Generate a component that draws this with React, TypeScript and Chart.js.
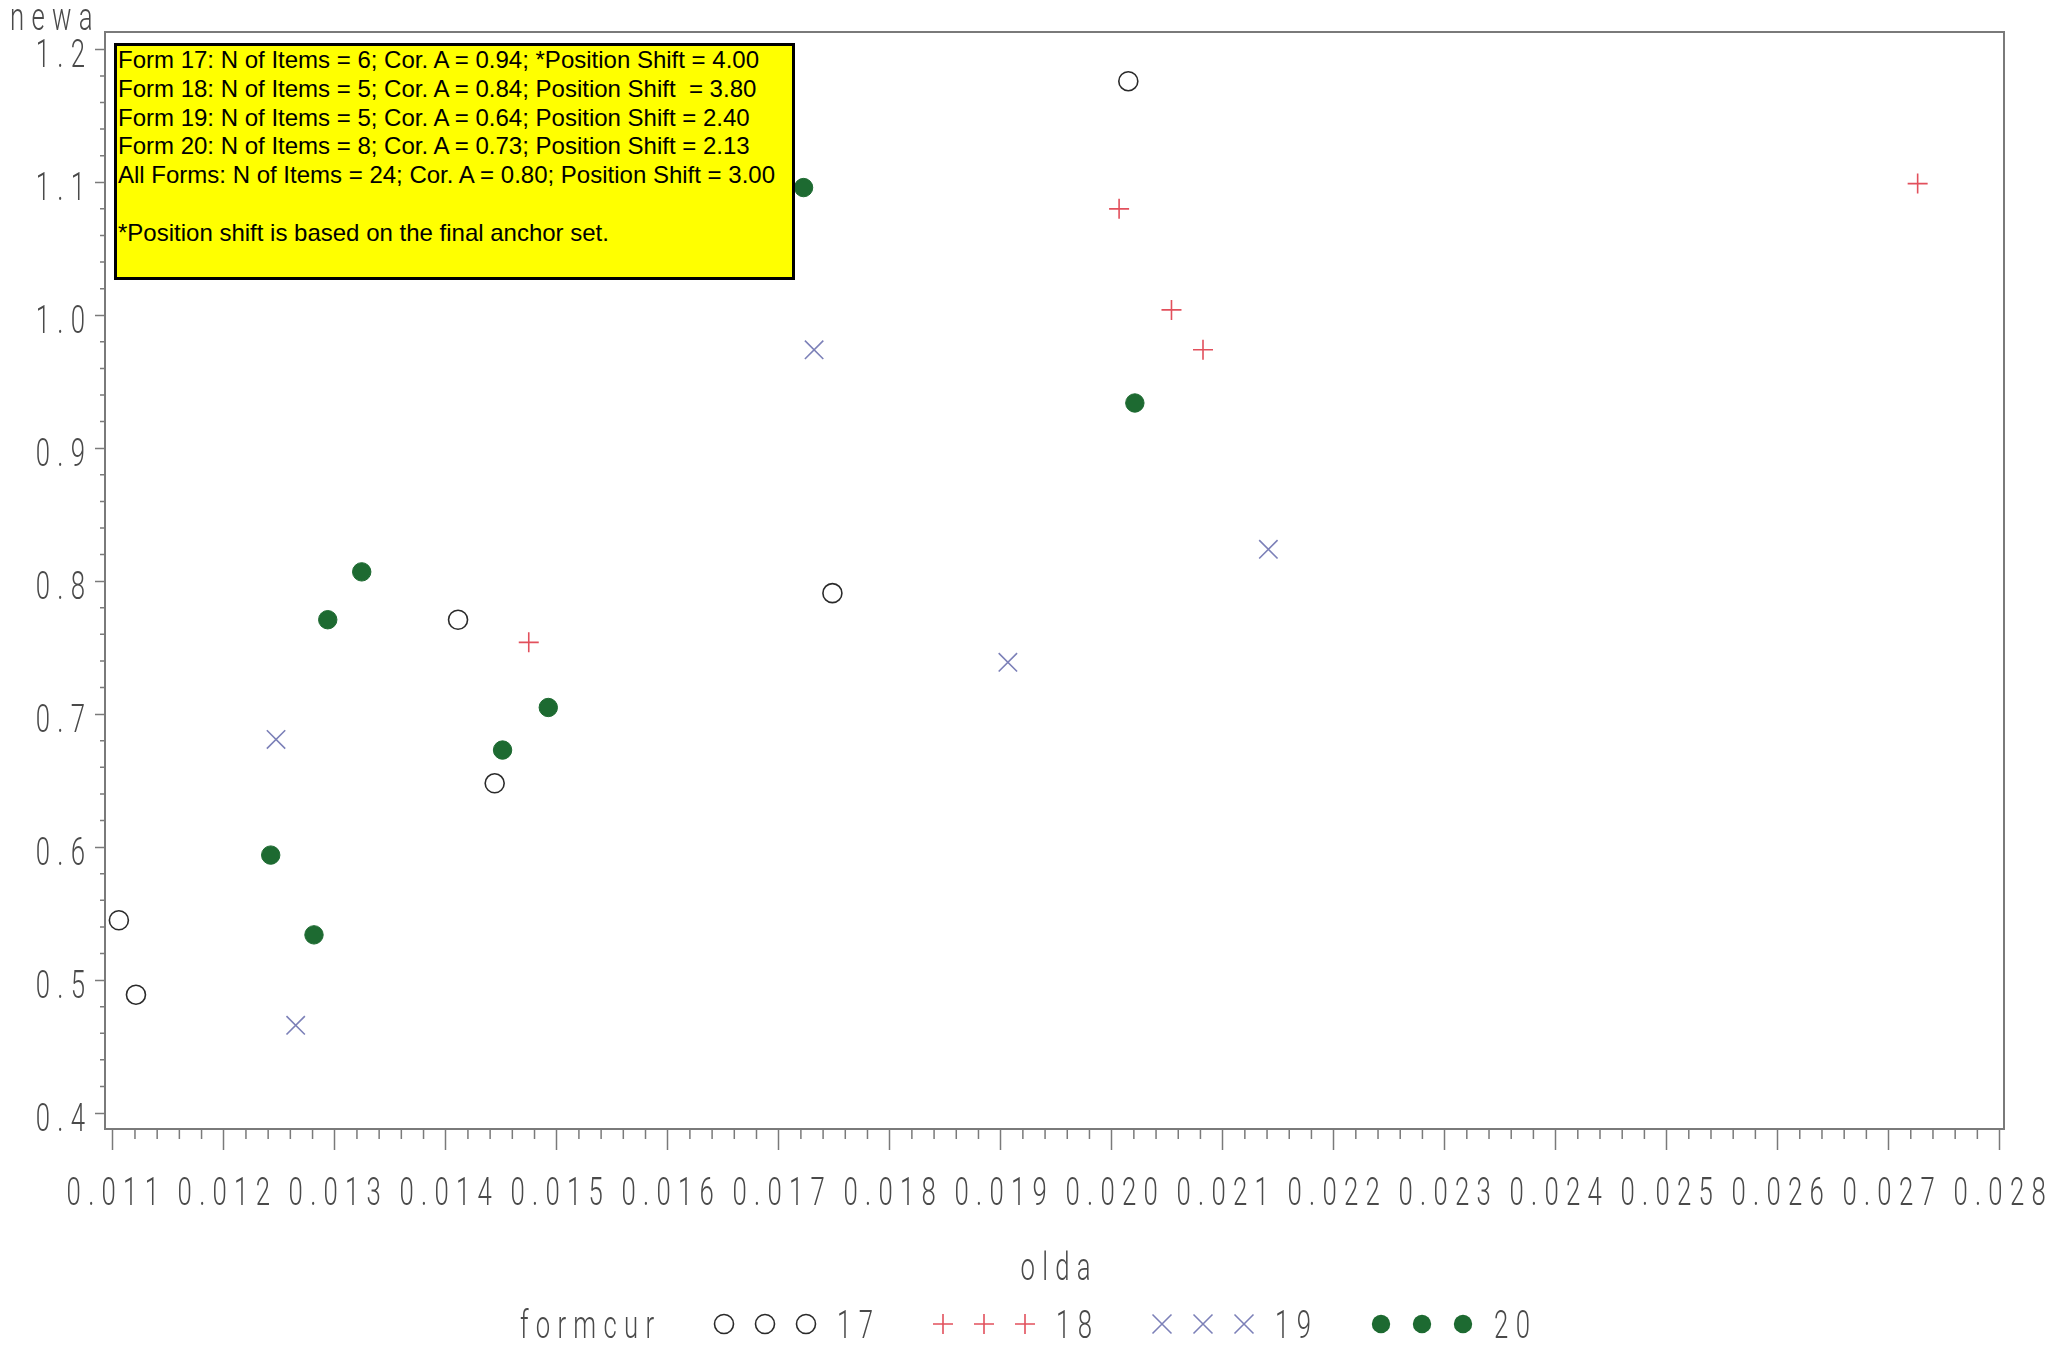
import React, { useEffect, useRef } from 'react';
import { Chart, registerables } from 'chart.js';

Chart.register(...registerables);

// ---- data ----
const form17X = [0.011055, 0.011209, 0.014111, 0.014441, 0.017484, 0.02015];
const form17Y = [0.545, 0.489, 0.771, 0.648, 0.791, 1.176];

const form18X = [0.014748, 0.020067, 0.020539, 0.020823, 0.027262];
const form18Y = [0.754, 1.08, 1.004, 0.974, 1.099];

const form19X = [0.012471, 0.012648, 0.017319, 0.019065, 0.021412];
const form19Y = [0.681, 0.466, 0.974, 0.739, 0.824];

const form20X = [0.012423, 0.012813, 0.012937, 0.013243, 0.014512, 0.014924, 0.017224, 0.020209];
const form20Y = [0.594, 0.534, 0.771, 0.807, 0.673, 0.705, 1.096, 0.934];

const seriesLabels = ['17', '18', '19', '20'];

const xTicks = [0.011, 0.012, 0.013, 0.014, 0.015, 0.016, 0.017, 0.018, 0.019, 0.02, 0.021, 0.022, 0.023, 0.024, 0.025, 0.026, 0.027, 0.028];
const yTicks = [0.4, 0.5, 0.6, 0.7, 0.8, 0.9, 1.0, 1.1, 1.2];

const X_MIN = 0.01093;
const X_MAX = 0.02804;
const Y_MIN = 0.388;
const Y_MAX = 1.213;

const xTitle = 'olda';
const yTitle = 'newa';
const legendTitle = 'formcur';

const boxLines = [
  'Form 17: N of Items = 6; Cor. A = 0.94; *Position Shift = 4.00',
  'Form 18: N of Items = 5; Cor. A = 0.84; Position Shift  = 3.80',
  'Form 19: N of Items = 5; Cor. A = 0.64; Position Shift = 2.40',
  'Form 20: N of Items = 8; Cor. A = 0.73; Position Shift = 2.13',
  'All Forms: N of Items = 24; Cor. A = 0.80; Position Shift = 3.00',
  '',
  '*Position shift is based on the final anchor set.',
];

// ---- styles ----
const SAS_FONT = 'Roboto, "Liberation Sans", sans-serif';
const SAS_SIZE = 39;
const SAS_SX = 0.66;
const SAS_LS = 11;
const TEXT_GRAY = '#4a4a4a';
const AXIS_GRAY = '#7a7a7a';
const C17 = '#2a2a2a';
const C18 = '#e2505c';
const C19 = '#7c80b8';
const C20 = '#1d6a31';

function toPoints(xs: number[], ys: number[]) {
  return xs.map((x, i) => ({ x, y: ys[i] }));
}

// condensed, letter-spaced text in the style of the SAS stroke font
function sasText(ctx: CanvasRenderingContext2D, text: string, x: number, baseline: number, align: 'left' | 'center' | 'right') {
  ctx.save();
  ctx.font = `300 ${SAS_SIZE}px ${SAS_FONT}`;
  ctx.fillStyle = TEXT_GRAY;
  (ctx as any).letterSpacing = `${SAS_LS}px`;
  ctx.textAlign = align;
  ctx.textBaseline = 'alphabetic';
  const trail = SAS_LS * SAS_SX;
  const dx = align === 'center' ? trail / 2 : align === 'right' ? trail : 0;
  ctx.translate(x + dx, baseline);
  ctx.scale(SAS_SX, 1);
  ctx.fillText(text, 0, 0);
  ctx.restore();
}

function drawSymbol(ctx: CanvasRenderingContext2D, kind: string, x: number, y: number, color: string) {
  ctx.save();
  ctx.strokeStyle = color;
  ctx.fillStyle = color;
  ctx.lineWidth = 1.6;
  ctx.beginPath();
  if (kind === 'open') {
    ctx.arc(x, y, 9.5, 0, Math.PI * 2);
    ctx.stroke();
  } else if (kind === 'filled') {
    ctx.arc(x, y, 9.2, 0, Math.PI * 2);
    ctx.fill();
  } else if (kind === 'plus') {
    ctx.moveTo(x - 10, y);
    ctx.lineTo(x + 10, y);
    ctx.moveTo(x, y - 10);
    ctx.lineTo(x, y + 10);
    ctx.stroke();
  } else {
    ctx.moveTo(x - 9.5, y - 9.5);
    ctx.lineTo(x + 9.5, y + 9.5);
    ctx.moveTo(x + 9.5, y - 9.5);
    ctx.lineTo(x - 9.5, y + 9.5);
    ctx.stroke();
  }
  ctx.restore();
}

const legendKinds = ['open', 'plus', 'cross', 'filled'];
const legendColors = [C17, C18, C19, C20];

const decorPlugin = {
  id: 'sasDecor',
  beforeDraw(chart: any) {
    const ctx = chart.ctx as CanvasRenderingContext2D;
    ctx.save();
    ctx.fillStyle = '#ffffff';
    ctx.fillRect(0, 0, chart.width, chart.height);
    ctx.restore();
  },
  afterDraw(chart: any) {
    const ctx = chart.ctx as CanvasRenderingContext2D;
    const a = chart.chartArea;
    const xs = chart.scales.x;
    const ys = chart.scales.y;
    ctx.save();
    // frame
    ctx.strokeStyle = AXIS_GRAY;
    ctx.lineWidth = 2;
    ctx.strokeRect(a.left, a.top, a.right - a.left, a.bottom - a.top);
    // minor ticks
    ctx.lineWidth = 1.5;
    ctx.beginPath();
    for (let i = 0; i < xTicks.length - 1; i++) {
      for (let k = 1; k < 5; k++) {
        const v = xTicks[i] + ((xTicks[i + 1] - xTicks[i]) * k) / 5;
        const px = xs.getPixelForValue(v);
        ctx.moveTo(px, a.bottom);
        ctx.lineTo(px, a.bottom + 10);
      }
    }
    for (let i = 0; i < yTicks.length - 1; i++) {
      for (let k = 1; k < 5; k++) {
        const v = yTicks[i] + ((yTicks[i + 1] - yTicks[i]) * k) / 5;
        const py = ys.getPixelForValue(v);
        ctx.moveTo(a.left, py);
        ctx.lineTo(a.left - 5, py);
      }
    }
    ctx.stroke();
    ctx.restore();

    // tick labels, placed by the chart's own scales
    for (const t of xs.ticks) {
      sasText(ctx, Number(t.value).toFixed(3), xs.getPixelForValue(t.value), 1205, 'center');
    }
    for (const t of ys.ticks) {
      sasText(ctx, Number(t.value).toFixed(1), 85, ys.getPixelForValue(t.value) + 18, 'right');
    }

    // axis titles
    sasText(ctx, yTitle, 10, 30, 'left');
    sasText(ctx, xTitle, (a.left + a.right) / 2 + 1, 1280, 'center');

    // legend
    sasText(ctx, legendTitle, 587, 1338, 'center');
    let gx = 724;
    for (let s = 0; s < seriesLabels.length; s++) {
      for (let k = 0; k < 3; k++) {
        drawSymbol(ctx, legendKinds[s], gx + k * 41, 1324, legendColors[s]);
      }
      sasText(ctx, seriesLabels[s], gx + 131, 1338, 'center');
      gx += 219;
    }
  },
};

export default function App() {
  const canvasRef = useRef<HTMLCanvasElement>(null);

  useEffect(() => {
    const canvas = canvasRef.current;
    if (!canvas) return;
    const chart = new Chart(canvas, {
      type: 'scatter',
      data: {
        datasets: [
          {
            label: seriesLabels[0],
            data: toPoints(form17X, form17Y),
            pointStyle: 'circle',
            pointRadius: 9.5,
            borderColor: C17,
            backgroundColor: 'rgba(0,0,0,0)',
            borderWidth: 1.6,
          },
          {
            label: seriesLabels[1],
            data: toPoints(form18X, form18Y),
            pointStyle: 'cross',
            pointRadius: 10,
            borderColor: C18,
            backgroundColor: C18,
            borderWidth: 1.6,
          },
          {
            label: seriesLabels[2],
            data: toPoints(form19X, form19Y),
            pointStyle: 'crossRot',
            pointRadius: 13,
            borderColor: C19,
            backgroundColor: C19,
            borderWidth: 1.6,
          },
          {
            label: seriesLabels[3],
            data: toPoints(form20X, form20Y),
            pointStyle: 'circle',
            pointRadius: 9.2,
            borderColor: C20,
            backgroundColor: C20,
            borderWidth: 1,
          },
        ],
      } as any,
      options: {
        responsive: false,
        animation: false,
        devicePixelRatio: 1,
        layout: { padding: { left: 0, right: 49, top: 32, bottom: 0 } },
        plugins: {
          legend: { display: false },
          tooltip: { enabled: false },
          title: { display: false },
        },
        events: [],
        scales: {
          x: {
            type: 'linear',
            min: X_MIN,
            max: X_MAX,
            afterBuildTicks: (s: any) => {
              s.ticks = xTicks.map((v) => ({ value: v }));
            },
            afterFit: (s: any) => {
              s.height = 218;
              s.paddingLeft = 0;
              s.paddingRight = 0;
            },
            ticks: {
              display: false,
              autoSkip: false,
              maxRotation: 0,
              minRotation: 0,
              callback: (v: any) => Number(v).toFixed(3),
            },
            grid: {
              drawOnChartArea: false,
              drawTicks: true,
              tickLength: 21,
              tickColor: AXIS_GRAY,
              tickWidth: 1.5,
              color: AXIS_GRAY,
            },
            border: { display: false },
          },
          y: {
            type: 'linear',
            min: Y_MIN,
            max: Y_MAX,
            afterBuildTicks: (s: any) => {
              s.ticks = yTicks.map((v) => ({ value: v }));
            },
            afterFit: (s: any) => {
              s.width = 105;
              s.paddingTop = 0;
              s.paddingBottom = 0;
            },
            ticks: {
              display: false,
              callback: (v: any) => Number(v).toFixed(1),
            },
            grid: {
              drawOnChartArea: false,
              drawTicks: true,
              tickLength: 10,
              tickColor: AXIS_GRAY,
              tickWidth: 1.5,
              color: AXIS_GRAY,
            },
            border: { display: false },
          },
        },
      } as any,
      plugins: [decorPlugin],
    });
    return () => chart.destroy();
  }, []);

  return (
    <div
      style={{
        position: 'absolute',
        left: 0,
        top: 0,
        width: 2053,
        height: 1347,
        background: '#ffffff',
        overflow: 'hidden',
      }}
    >
      <canvas ref={canvasRef} width={2053} height={1347} style={{ display: 'block', width: 2053, height: 1347 }} />
      <div
        style={{
          position: 'absolute',
          left: 114,
          top: 43,
          width: 681,
          height: 237,
          boxSizing: 'border-box',
          border: '3px solid #000',
          background: '#ffff00',
          color: '#000',
          fontFamily: '"Liberation Sans", Arial, sans-serif',
          fontSize: 24,
          lineHeight: '28.8px',
          paddingLeft: 1,
          whiteSpace: 'pre',
        }}
      >
        {boxLines.map((line, i) => (
          <div key={i} style={{ height: 28.8 }}>
            {line}
          </div>
        ))}
      </div>
    </div>
  );
}
